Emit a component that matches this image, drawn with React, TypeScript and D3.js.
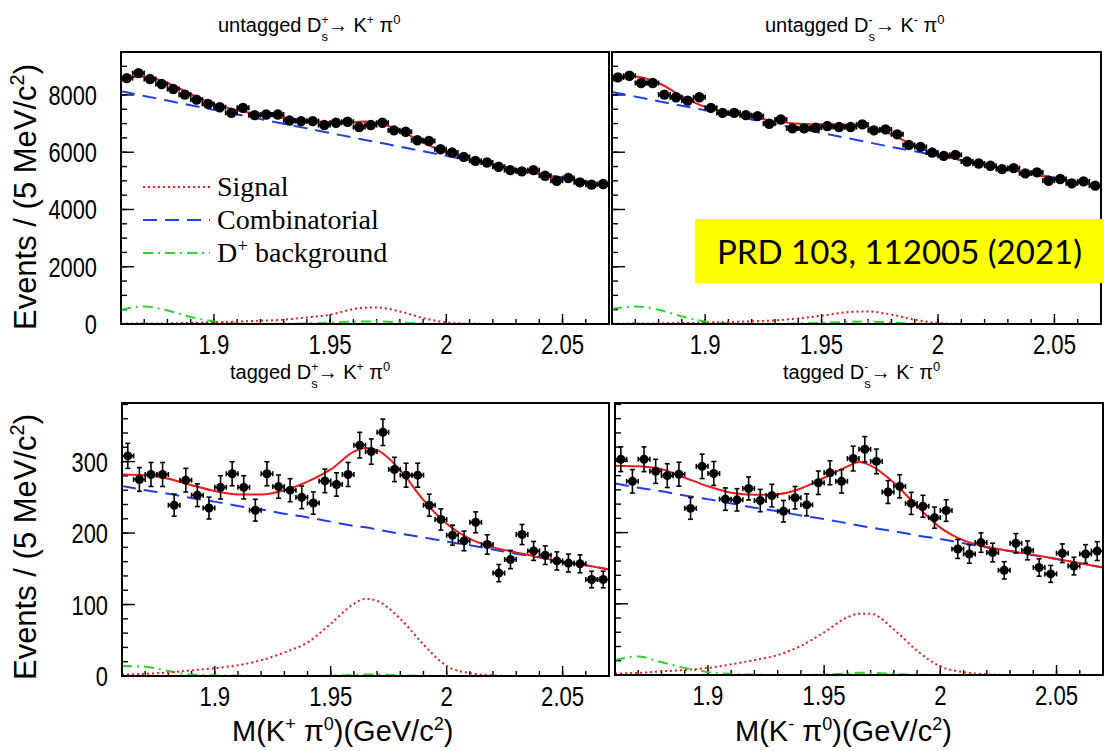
import React from "react";
import * as d3 from "d3";

// bin centres, 5 MeV bins
const MASS_BINS = [
  1.8625, 1.8675, 1.8725, 1.8775, 1.8825, 1.8875, 1.8925, 1.8975, 1.9025, 1.9075,
  1.9125, 1.9175, 1.9225, 1.9275, 1.9325, 1.9375, 1.9425, 1.9475, 1.9525, 1.9575,
  1.9625, 1.9675, 1.9725, 1.9775, 1.9825, 1.9875, 1.9925, 1.9975, 2.0025, 2.0075,
  2.0125, 2.0175, 2.0225, 2.0275, 2.0325, 2.0375, 2.0425, 2.0475, 2.0525, 2.0575,
  2.0625, 2.0675,
];

const UNTAG_PLUS = [
  8589, 8763, 8555, 8381, 8208, 8011, 7838, 7687, 7572, 7375,
  7549, 7294, 7317, 7317, 7109, 7086, 7086, 6948, 7028, 7063,
  6878, 6948, 7028, 6763, 6716, 6416, 6393, 6104, 5988, 5838,
  5699, 5641, 5491, 5375, 5329, 5375, 5179, 5005, 5098, 4948,
  4867, 4890,
];
const UNTAG_MINUS = [
  8612, 8670, 8416, 8416, 8011, 7919, 7803, 7919, 7549, 7375,
  7375, 7294, 7260, 6994, 7144, 6832, 6832, 6855, 6913, 6878,
  6878, 6971, 6763, 6797, 6624, 6254, 6185, 5988, 5873, 5907,
  5676, 5607, 5526, 5410, 5445, 5260, 5294, 5005, 5063, 4913,
  4983, 4832,
];
const TAG_PLUS = [
  308, 275, 282, 282, 239, 274, 253, 235, 264, 283,
  264, 232, 283, 265, 260, 250, 242, 273, 268, 282,
  323, 314, 341, 289, 281, 281, 239, 219, 197, 189,
  215, 184, 144, 163, 198, 175, 169, 161, 158, 157,
  135, 135,
];
const TAG_MINUS = [
  303, 272, 303, 286, 280, 282, 234, 293, 283, 247,
  246, 262, 245, 252, 230, 249, 239, 270, 284, 272,
  304, 317, 300, 257, 265, 241, 237, 221, 231, 177,
  170, 186, 172, 147, 185, 175, 151, 142, 171, 153,
  170, 174,
];

// fit curves at these masses
const FIT_X = [
  1.86, 1.87, 1.88, 1.89, 1.9, 1.91, 1.92, 1.93, 1.94, 1.95, 1.96, 1.965,
  1.97, 1.98, 1.99, 2.0, 2.01, 2.02, 2.03, 2.04, 2.05, 2.06, 2.07,
];

const UP_TOTAL = [8589, 8647, 8416, 8034, 7687, 7468, 7317, 7202, 7109, 7052, 7052, 7075, 7028, 6763, 6335, 5988, 5757, 5584, 5410, 5237, 5086, 4948, 4809];
const UP_COMB = [8127, 7965, 7803, 7641, 7479, 7318, 7156, 6994, 6832, 6670, 6508, 6430, 6352, 6196, 6035, 5873, 5716, 5560, 5410, 5260, 5120, 4982, 4844];
const UP_SIGNAL = [12, 17, 23, 40, 58, 81, 116, 150, 231, 324, 520, 570, 578, 439, 208, 58, 12, 2, 0, 0, 0, 0, 0];
const UP_DPLUS = [497, 612, 474, 243, 92, 23, 5, 5, 20, 46, 81, 90, 92, 58, 12, 2, 0, 0, 0, 0, 0, 0, 0];

const UM_TOTAL = [8566, 8647, 8416, 7953, 7583, 7375, 7225, 7086, 6994, 6971, 6971, 6960, 6878, 6624, 6219, 5930, 5722, 5560, 5410, 5237, 5086, 4948, 4797];
const UM_COMB = [8104, 7942, 7780, 7624, 7468, 7306, 7144, 6988, 6832, 6670, 6508, 6430, 6347, 6185, 6029, 5873, 5716, 5560, 5410, 5260, 5110, 4959, 4809];
const UM_SIGNAL = [12, 15, 23, 35, 46, 69, 92, 127, 196, 289, 405, 430, 439, 324, 150, 35, 5, 0, 0, 0, 0, 0, 0];
const UM_DPLUS = [520, 612, 497, 266, 92, 23, 5, 5, 20, 40, 70, 80, 85, 55, 12, 2, 0, 0, 0, 0, 0, 0, 0];

const TP_TOTAL = [282, 281, 276, 267, 259, 254, 254, 260, 272, 289, 314, 319, 316, 288, 246, 213, 192, 180, 173, 166, 160, 155, 149];
const TP_COMB = [266, 260, 255, 249, 244, 238, 233, 227, 222, 216, 210, 208, 205, 199, 194, 188, 183, 177, 171, 166, 160, 155, 149];
const TP_SIGNAL = [2, 3, 5, 8, 11, 15, 22, 33, 47, 73, 101, 108, 105, 80, 44, 14, 4, 1, 0, 0, 0, 0, 0];
const TP_DPLUS = [14, 13, 7, 2, 1, 0.5, 0, 0, 0, 0.5, 1.5, 2, 2, 1, 0.3, 0, 0, 0, 0, 0, 0, 0, 0];

const TM_TOTAL = [294, 293, 289, 277, 265, 256, 253, 254, 262, 277, 293, 299, 294, 270, 237, 207, 189, 180, 174, 169, 163, 157, 151];
const TM_COMB = [269, 263, 258, 252, 247, 241, 235, 230, 224, 219, 213, 210, 207, 202, 196, 191, 185, 179, 174, 168, 163, 157, 151];
const TM_SIGNAL = [2, 3, 5, 7, 10, 15, 21, 28, 41, 60, 81, 86, 86, 64, 34, 12, 4, 1, 0, 0, 0, 0, 0];
const TM_DPLUS = [21, 26, 18, 10, 4, 1.4, 0.5, 0, 0, 0.5, 2, 3, 3, 1.5, 0.3, 0, 0, 0, 0, 0, 0, 0, 0];

const X_DOMAIN = [1.86, 2.07];
const X_TICKS = [1.9, 1.95, 2, 2.05];
const Y_TICKS_UNTAGGED = [0, 2000, 4000, 6000, 8000];
const Y_TICKS_TAGGED = [0, 100, 200, 300];

const RED = "#f01818";
const BLUE = "#1f3fe6";
const GREEN = "#2fd42f";
const SANS = "'Liberation Sans', Arial, Helvetica, sans-serif";
const SERIF = "'Liberation Serif', 'Times New Roman', serif";

type PanelProps = {
  id: string;
  left: number;
  right: number;
  top: number;
  bottom: number;
  yMax: number;
  yTicks: number[];
  yMinor: number;
  counts: number[];
  total: number[];
  comb: number[];
  signal: number[];
  dplus: number[];
  markerR: number;
  labelRight?: number;
};

function Panel(p: PanelProps) {
  const x = d3.scaleLinear().domain(X_DOMAIN).range([p.left, p.right]);
  const y = d3.scaleLinear().domain([0, p.yMax]).range([p.bottom, p.top]);
  const path = (vals: number[]) =>
    d3
      .line<number>()
      .x((_, i) => x(FIT_X[i]))
      .y((d) => y(d))
      .curve(d3.curveMonotoneX)(vals) || "";

  const xMinor = d3.range(0, 22).map((i) => 1.86 + i * 0.01);
  const yMinor = d3.range(0, p.yMax, p.yMinor);
  const halfBin = x(1.8625) - x(1.86);

  return (
    <g>
      <clipPath id={`clip-${p.id}`}>
        <rect x={p.left} y={p.top} width={p.right - p.left} height={p.bottom - p.top + 2} />
      </clipPath>

      {/* ticks */}
      <g stroke="#000" strokeWidth={1.4}>
        {xMinor.map((v, i) => (
          <line key={"xm" + i} x1={x(v)} x2={x(v)} y1={p.bottom} y2={p.bottom - 5} />
        ))}
        {X_TICKS.map((v) => (
          <line key={"xM" + v} x1={x(v)} x2={x(v)} y1={p.bottom} y2={p.bottom - 10} />
        ))}
        {yMinor.map((v, i) => (
          <line key={"ym" + i} x1={p.left} x2={p.left + 6} y1={y(v)} y2={y(v)} />
        ))}
        {p.yTicks.map((v) => (
          <line key={"yM" + v} x1={p.left} x2={p.left + 13} y1={y(v)} y2={y(v)} />
        ))}
      </g>

      {/* tick labels */}
      {X_TICKS.map((v) => (
        <text
          key={"xl" + v}
          transform={`translate(${x(v)},${p.bottom + 30}) scale(0.82,1)`}
          textAnchor="middle"
          fontFamily={SANS}
          fontSize={27}
        >
          {v}
        </text>
      ))}
      {p.labelRight !== undefined &&
        p.yTicks.map((v) => (
          <text
            key={"yl" + v}
            transform={`translate(${p.labelRight},${y(v) + 10}) scale(0.78,1)`}
            textAnchor="end"
            fontFamily={SANS}
            fontSize={28}
          >
            {v}
          </text>
        ))}

      {/* fit components */}
      <g clipPath={`url(#clip-${p.id})`} fill="none" strokeWidth={2}>
        <path d={path(p.dplus)} stroke={GREEN} strokeDasharray="10 5 2 5" />
        <path d={path(p.signal)} stroke={RED} strokeDasharray="2 3" />
        <path d={path(p.comb)} stroke={BLUE} strokeDasharray="14 8" />
        <path d={path(p.total)} stroke={RED} />
      </g>

      {/* data points */}
      <g stroke="#000" strokeWidth={1.6}>
        {p.counts.map((c, i) => {
          const cx = x(MASS_BINS[i]);
          const cy = y(c);
          const e = Math.sqrt(c);
          const yHi = y(c + e);
          const yLo = y(c - e);
          const showV = cy - yHi > p.markerR;
          return (
            <g key={"pt" + i}>
              <line x1={cx - halfBin} x2={cx + halfBin} y1={cy} y2={cy} />
              <line x1={cx - halfBin} x2={cx - halfBin} y1={cy - 2.5} y2={cy + 2.5} />
              <line x1={cx + halfBin} x2={cx + halfBin} y1={cy - 2.5} y2={cy + 2.5} />
              {showV && (
                <>
                  <line x1={cx} x2={cx} y1={yHi} y2={yLo} />
                  <line x1={cx - 2.5} x2={cx + 2.5} y1={yHi} y2={yHi} />
                  <line x1={cx - 2.5} x2={cx + 2.5} y1={yLo} y2={yLo} />
                </>
              )}
              <circle cx={cx} cy={cy} r={p.markerR} fill="#000" stroke="none" />
            </g>
          );
        })}
      </g>

      <rect
        x={p.left}
        y={p.top}
        width={p.right - p.left}
        height={p.bottom - p.top}
        fill="none"
        stroke="#000"
        strokeWidth={2}
      />
    </g>
  );
}

function DecayTitle(props: { x: number; y: number; prefix: string; sign: string }) {
  const back = props.sign === "+" ? -7 : -4;
  return (
    <text x={props.x} y={props.y} fontFamily={SANS} fontSize={20}>
      <tspan>{props.prefix + " D"}</tspan>
      <tspan dy={-8} fontSize={12}>{props.sign}</tspan>
      <tspan dx={back} dy={17} fontSize={13}>s</tspan>
      <tspan dy={-9}>{"\u2192 K"}</tspan>
      <tspan dy={-8} fontSize={12}>{props.sign}</tspan>
      <tspan dy={8}>{" \u03c0"}</tspan>
      <tspan dy={-8} fontSize={13}>0</tspan>
    </text>
  );
}

function MassTitle(props: { x: number; sign: string }) {
  return (
    <text x={props.x} y={741} fontFamily={SANS} fontSize={29}>
      <tspan>M(K</tspan>
      <tspan dy={-11} fontSize={18}>{props.sign}</tspan>
      <tspan dy={11}>{" \u03c0"}</tspan>
      <tspan dy={-11} fontSize={18}>0</tspan>
      <tspan dy={11}>)(GeV/c</tspan>
      <tspan dy={-11} fontSize={18}>2</tspan>
      <tspan dy={11}>)</tspan>
    </text>
  );
}

function YTitle(props: { cy: number }) {
  return (
    <text
      transform={`translate(36,${props.cy}) rotate(-90)`}
      textAnchor="middle"
      fontFamily={SANS}
      fontSize={31}
    >
      <tspan>Events / (5 MeV/c</tspan>
      <tspan dy={-12} fontSize={20}>2</tspan>
      <tspan dy={12}>)</tspan>
    </text>
  );
}

export default function App() {
  const legend = [
    { label: "Signal", color: RED, dash: "2 3", y: 187 },
    { label: "Combinatorial", color: BLUE, dash: "14 8", y: 220 },
    { label: "D", color: GREEN, dash: "10 5 2 5", y: 253 },
  ];
  return (
    <svg
      width={1104}
      height={751}
      style={{ position: "absolute", left: 0, top: 0 }}
    >
      <rect width={1104} height={751} fill="#fff" />

      <Panel id="tl" left={121} right={609} top={52} bottom={324} yMax={9500}
        yTicks={Y_TICKS_UNTAGGED} yMinor={500} counts={UNTAG_PLUS}
        total={UP_TOTAL} comb={UP_COMB} signal={UP_SIGNAL} dplus={UP_DPLUS}
        markerR={5.2} labelRight={97} />
      <Panel id="tr" left={612} right={1101} top={52} bottom={324} yMax={9500}
        yTicks={Y_TICKS_UNTAGGED} yMinor={500} counts={UNTAG_MINUS}
        total={UM_TOTAL} comb={UM_COMB} signal={UM_SIGNAL} dplus={UM_DPLUS}
        markerR={5.2} />
      <Panel id="bl" left={122} right={609} top={403} bottom={676} yMax={382}
        yTicks={Y_TICKS_TAGGED} yMinor={20} counts={TAG_PLUS}
        total={TP_TOTAL} comb={TP_COMB} signal={TP_SIGNAL} dplus={TP_DPLUS}
        markerR={4.5} labelRight={108} />
      <Panel id="br" left={615} right={1103} top={403} bottom={675} yMax={382}
        yTicks={Y_TICKS_TAGGED} yMinor={20} counts={TAG_MINUS}
        total={TM_TOTAL} comb={TM_COMB} signal={TM_SIGNAL} dplus={TM_DPLUS}
        markerR={4.5} />

      <DecayTitle x={218} y={32} prefix="untagged" sign="+" />
      <DecayTitle x={765} y={32} prefix="untagged" sign="-" />
      <DecayTitle x={230} y={379} prefix="tagged" sign="+" />
      <DecayTitle x={783} y={379} prefix="tagged" sign="-" />

      <YTitle cy={197} />
      <YTitle cy={547} />
      <MassTitle x={232} sign="+" />
      <MassTitle x={735} sign="-" />

      {/* legend */}
      {legend.map((l) => (
        <g key={l.label}>
          <line x1={143} x2={210} y1={l.y} y2={l.y} stroke={l.color} strokeWidth={2} strokeDasharray={l.dash} />
          <text x={217} y={l.y + 9} fontFamily={SERIF} fontSize={28}>
            {l.label === "D" ? (
              <>
                <tspan>D</tspan>
                <tspan dy={-10} fontSize={19}>+</tspan>
                <tspan dy={10}>{" background"}</tspan>
              </>
            ) : (
              l.label
            )}
          </text>
        </g>
      ))}

      <rect x={695} y={219} width={409} height={64} fill="#ffff00" />
      <text x={717} y={264} fontFamily="Lato, 'Open Sans', sans-serif" fontSize={33} textLength={365} lengthAdjust="spacingAndGlyphs">
        PRD 103, 112005 (2021)
      </text>
    </svg>
  );
}
